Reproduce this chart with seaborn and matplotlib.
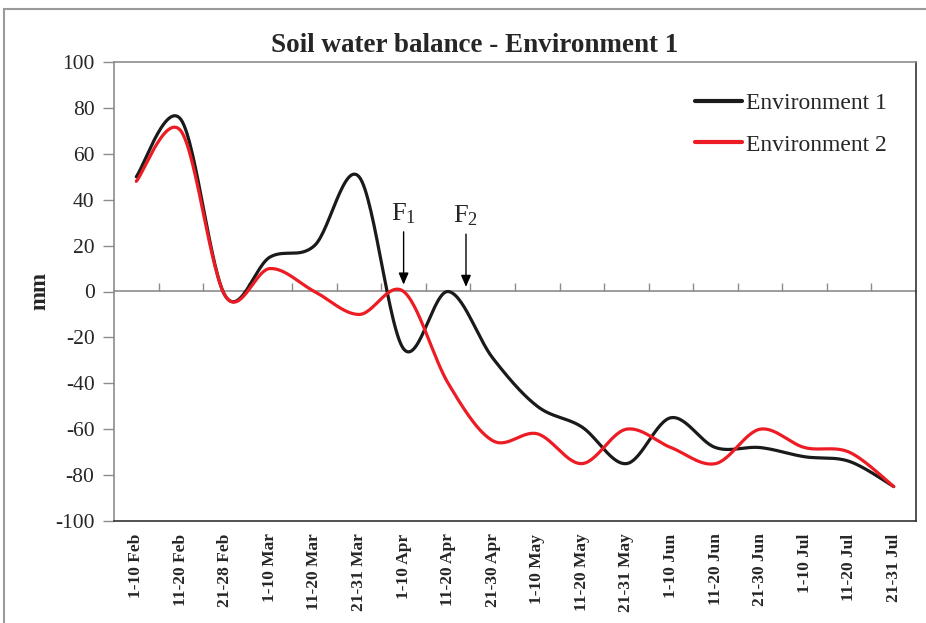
import numpy as np
import pandas as pd
import matplotlib
matplotlib.use('Agg')
import matplotlib.pyplot as plt
import seaborn as sns
from matplotlib.patches import Rectangle

# Data (mm)
periods = ['1-10 Feb', '11-20 Feb', '21-28 Feb', '1-10 Mar', '11-20 Mar', '21-31 Mar',
           '1-10 Apr', '11-20 Apr', '21-30 Apr', '1-10 May', '11-20 May', '21-31 May',
           '1-10 Jun', '11-20 Jun', '21-30 Jun', '1-10 Jul', '11-20 Jul', '21-31 Jul']
env1 = [50, 75, -2, 15, 20, 50, -25, 0, -29, -50, -59, -75, -55, -68, -68, -72, -74, -85]
env2 = [48, 70, -2, 10, 0, -10, 0, -40, -65, -62, -75, -60, -68, -75, -60, -68, -70, -85]
series_names = ['Environment 1', 'Environment 2']
y_ticks = list(range(-100, 101, 20))


def smooth(xs, ys, n=30):
    # Excel-style smoothed line: cubic Bezier segments with Catmull-Rom control points
    xs = np.asarray(xs, float)
    ys = np.asarray(ys, float)
    px = np.concatenate([[xs[0]], xs, [xs[-1]]])
    py = np.concatenate([[ys[0]], ys, [ys[-1]]])
    out_x, out_y = [], []
    t = np.linspace(0, 1, n, endpoint=False)
    for i in range(1, len(px) - 2):
        p0 = np.array([px[i], py[i]])
        p3 = np.array([px[i + 1], py[i + 1]])
        c1 = p0 + (np.array([px[i + 1], py[i + 1]]) - np.array([px[i - 1], py[i - 1]])) / 6
        c2 = p3 - (np.array([px[i + 2], py[i + 2]]) - np.array([px[i], py[i]])) / 6
        b = ((1 - t) ** 3)[:, None] * p0 + (3 * (1 - t) ** 2 * t)[:, None] * c1 \
            + (3 * (1 - t) * t ** 2)[:, None] * c2 + (t ** 3)[:, None] * p3
        out_x.extend(b[:, 0])
        out_y.extend(b[:, 1])
    out_x.append(xs[-1])
    out_y.append(ys[-1])
    return out_x, out_y


pos = np.arange(len(periods))
frames = []
for name, vals in zip(series_names, [env1, env2]):
    sx, sy = smooth(pos, vals)
    frames.append(pd.DataFrame({'x': sx, 'mm': sy, 'series': name}))
df = pd.concat(frames, ignore_index=True)

sns.set_style('white')
plt.rcParams['font.family'] = ['Liberation Serif', 'DejaVu Serif']
plt.rcParams['mathtext.fontset'] = 'custom'
plt.rcParams['mathtext.rm'] = 'Liberation Serif'
plt.rcParams['mathtext.it'] = 'Liberation Serif:italic'

fig = plt.figure(figsize=(9.26, 6.23), dpi=100)
ax = fig.add_axes([114 / 926, 1 - 521 / 623, 802 / 926, 459 / 623])

palette = {'Environment 1': '#1a1a1a', 'Environment 2': '#ed1c24'}
sns.lineplot(data=df, x='x', y='mm', hue='series', palette=palette, sort=False,
             linewidth=2.3, ax=ax, estimator=None)

ax.set_xlim(-0.5, len(periods) - 0.5)
ax.set_ylim(-100, 100)
ax.set_yticks(y_ticks)
ax.set_yticklabels([str(v) for v in y_ticks], fontsize=15.5)
ax.set_xticks(pos)
ax.set_xticklabels(periods, rotation=90, fontsize=12.5, fontweight='bold')
ax.tick_params(axis='x', length=0, pad=9)
ax.tick_params(axis='y', length=8, width=1, color='#8c8c8c', direction='out', pad=6, left=True)
ax.set_xlabel('')
ax.set_ylabel('mm', fontsize=16.5, fontweight='bold', labelpad=3)

for side in ['left', 'top']:
    ax.spines[side].set_color('#8c8c8c')
    ax.spines[side].set_linewidth(1.2)
for side in ['right', 'bottom']:
    ax.spines[side].set_color('#333333')
    ax.spines[side].set_linewidth(1.2)

# category axis crossing at zero, ticks between categories
zero_axis = ax.secondary_xaxis(0.5)
zero_axis.set_xticks(pos[:-1] + 0.5)
zero_axis.set_xticklabels([])
zero_axis.tick_params(length=6, width=1, color='#8c8c8c', direction='out')
for sp in zero_axis.spines.values():
    sp.set_color('#8c8c8c')
    sp.set_linewidth(1.2)

# F1 / F2 markers
arrow = dict(arrowstyle='-|>,head_length=0.7,head_width=0.3', color='black', lw=1,
             shrinkA=0, shrinkB=0)
ax.annotate('', xy=(6.0, 3), xytext=(6.0, 26), arrowprops=arrow)
ax.annotate('', xy=(7.4, 2), xytext=(7.4, 25), arrowprops=arrow)
ax.text(6.0, 34, r'F$_1$', ha='center', va='center', fontsize=19)
ax.text(7.4, 33, r'F$_2$', ha='center', va='center', fontsize=19)

leg = ax.legend(loc='upper right', bbox_to_anchor=(0.99, 0.98), frameon=False,
                fontsize=17, handlelength=2.0, handletextpad=0.15, labelspacing=0.85)
for line in leg.get_lines():
    line.set_linewidth(3)

fig.text(475 / 926, 1 - 46 / 623, 'Soil water balance - Environment 1', ha='center',
         va='center', fontsize=19.5, fontweight='bold')

# outer chart border
fig.patches.append(Rectangle((4 / 926, -0.05), 1.1, 1 - 9 / 623 + 0.05,
                             transform=fig.transFigure, fill=False,
                             edgecolor='#9a9a9a', linewidth=1.5))

fig.savefig('out.png', dpi=100)
